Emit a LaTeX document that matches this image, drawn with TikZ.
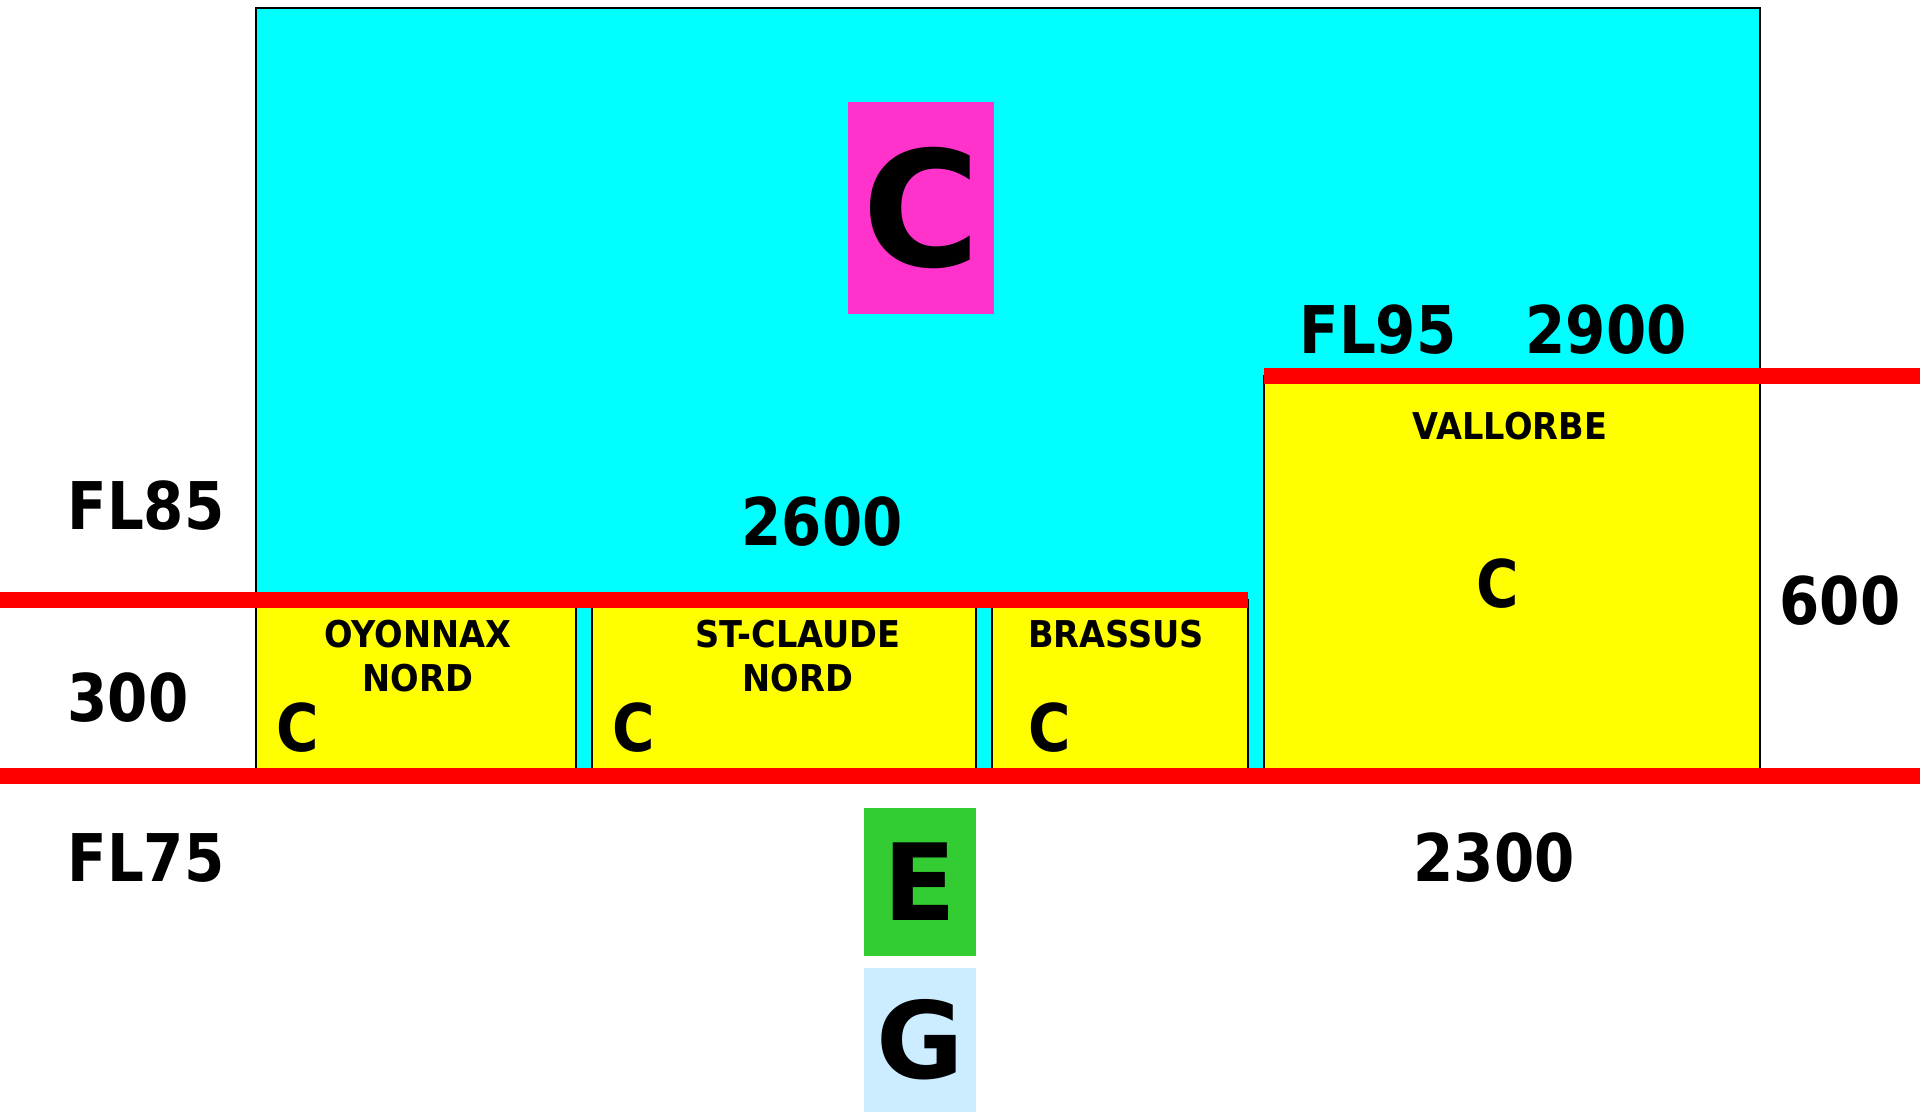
\documentclass[tikz,border=0pt]{standalone}
\usepackage{fontspec}
\setmainfont{DejaVu Sans}
\newfontfamily\lblfont{DejaVu Sans}[FakeStretch=0.88]
\newfontfamily\namefont{DejaVu Sans}[FakeStretch=0.91]
\definecolor{skyzone}{HTML}{00FFFF}
\definecolor{ctrzone}{HTML}{FFFF00}
\definecolor{classC}{HTML}{FF33CC}
\definecolor{classE}{HTML}{33CC33}
\definecolor{classG}{HTML}{CCECFF}

\begin{document}
\begin{tikzpicture}
  [x=0.01cm, y=-0.01cm, every node/.style={inner sep=0pt, font=\lblfont\bfseries\fontsize{18.7pt}{22pt}\selectfont}, % sizes are in pixels of the sketch, y going down
   zone/.style={draw=black, line width=0.5pt, fill=ctrzone},
   level/.style={draw=red, line width=0.16cm},
   small/.style={align=center, font=\namefont\bfseries\fontsize{10.5pt}{12.5pt}\selectfont},
   classbox/.style={font=\bfseries\fontsize{30.3pt}{34pt}\selectfont}]

  \useasboundingbox (0,0) rectangle (1920,1112);

  \draw[line width=0.6pt, fill=skyzone] (256,8) rectangle (1760,776);
  \draw[zone] (256,600) rectangle (576,776);
  \draw[zone] (592,600) rectangle (976,776);
  \draw[zone] (992,600) rectangle (1248,776);
  \draw[zone] (1264,376) rectangle (1760,776);

  \draw[level] (0,600) -- (1248,600);
  \draw[level] (1264,376) -- (1920,376);
  \draw[level] (0,776) -- (1920,776);

  \node[classbox, fill=classC, minimum width=1.46cm, minimum height=2.11cm, font=\bfseries\fontsize{45.7pt}{50pt}\selectfont] (k1) at (921,208) {C};
  \node[classbox, fill=classE, minimum width=1.12cm, minimum height=1.48cm] (k2) at (920,882) {E};
  \node[classbox, fill=classG, minimum width=1.12cm, minimum height=1.44cm] (k3) at (920,1040) {G};

  \node (a1) at (146,506) {FL85};
  \node (a2) at (128,698) {300};
  \node (a3) at (146,858) {FL75};
  \node (a4) at (822,522) {2600};
  \node (a5) at (1378,330) {FL95};
  \node (a6) at (1606,330) {2900};
  \node (a7) at (1840,601) {600};
  \node (a8) at (1494,858) {2300};

  \node[small] (b1) at (418,656) {OYONNAX\\NORD};
  \node[small] (b2) at (798,656) {ST-CLAUDE\\NORD};
  \node[small] (b3) at (1116,634) {BRASSUS};
  \node[small] (b4) at (1510,426) {VALLORBE};

  \node (c1) at (298,728) {C};
  \node (c2) at (634,728) {C};
  \node (c3) at (1050,728) {C};
  \node (c4) at (1498,584) {C};

\end{tikzpicture}
\end{document}
